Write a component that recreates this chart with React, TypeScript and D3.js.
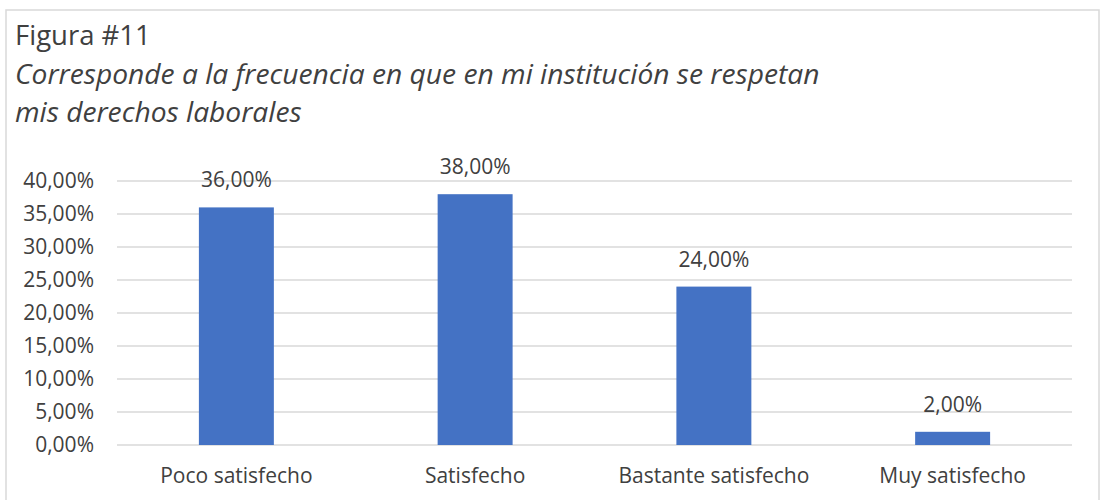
import React, { useEffect, useRef } from "react";
import * as d3 from "d3";

const categories = ["Poco satisfecho", "Satisfecho", "Bastante satisfecho", "Muy satisfecho"];
const values = [0.36, 0.38, 0.24, 0.02];
const yTicks = [0, 0.05, 0.1, 0.15, 0.2, 0.25, 0.3, 0.35, 0.4];
const titleLines = [
  "Corresponde a la frecuencia en que en mi institución se respetan",
  "mis derechos laborales",
];

const fmt = (v: number) => (v * 100).toFixed(2).replace(".", ",") + "%";

const App: React.FC = () => {
  const svgRef = useRef<SVGSVGElement | null>(null);

  useEffect(() => {
    const width = 1100;
    const height = 500;
    const margin = { top: 181, right: 28, bottom: 55, left: 117 };
    const innerWidth = width - margin.left - margin.right;
    const innerHeight = height - margin.top - margin.bottom;
    const font = "'Open Sans', sans-serif";
    const textColor = "#404040";
    const labelSize = 21;

    d3.select(svgRef.current).selectAll("*").remove();

    const svg = d3
      .select(svgRef.current)
      .attr("width", width)
      .attr("height", height)
      .style("font-family", font);

    svg.append("rect").attr("width", width).attr("height", height).attr("fill", "#fff");

    // chart border
    svg
      .append("rect")
      .attr("x", 6)
      .attr("y", 10)
      .attr("width", 1093)
      .attr("height", 500)
      .attr("fill", "none")
      .attr("stroke", "#d9d9d9")
      .attr("stroke-width", 1.5);

    // titles
    svg
      .append("text")
      .attr("x", 15)
      .attr("y", 45)
      .attr("font-size", 27.5)
      .attr("fill", textColor)
      .text("Figura #11");

    titleLines.forEach((t, i) => {
      svg
        .append("text")
        .attr("x", 15)
        .attr("y", 84 + i * 38)
        .attr("font-size", 28.2)
        .attr("font-style", "italic")
        .attr("fill", textColor)
        .text(t);
    });

    const g = svg.append("g").attr("transform", `translate(${margin.left},${margin.top})`);

    const x = d3.scaleBand().domain(categories).range([0, innerWidth]).paddingInner(0.686).paddingOuter(0.343);

    const y = d3.scaleLinear().domain([0, 0.4]).range([innerHeight, 0]);

    // gridlines
    g.selectAll(".grid")
      .data(yTicks)
      .join("line")
      .attr("x1", 0)
      .attr("x2", innerWidth)
      .attr("y1", (d) => y(d))
      .attr("y2", (d) => y(d))
      .attr("stroke", "#d9d9d9")
      .attr("stroke-width", 1.3);

    // y axis labels
    g.selectAll(".ytick")
      .data(yTicks)
      .join("text")
      .attr("x", -23)
      .attr("y", (d) => y(d))
      .attr("dy", "0.35em")
      .attr("text-anchor", "end")
      .attr("font-size", labelSize)
      .attr("fill", textColor)
      .text((d) => fmt(d));

    // bars
    g.selectAll(".bar")
      .data(values)
      .join("rect")
      .attr("x", (_, i) => x(categories[i])!)
      .attr("y", (d) => y(d))
      .attr("width", x.bandwidth())
      .attr("height", (d) => innerHeight - y(d))
      .attr("fill", "#4472c4");

    // value labels
    g.selectAll(".val")
      .data(values)
      .join("text")
      .attr("x", (_, i) => x(categories[i])! + x.bandwidth() / 2)
      .attr("y", (d) => y(d) - 20)
      .attr("text-anchor", "middle")
      .attr("font-size", labelSize)
      .attr("fill", textColor)
      .text((d) => fmt(d));

    // category labels
    g.selectAll(".cat")
      .data(categories)
      .join("text")
      .attr("x", (d) => x(d)! + x.bandwidth() / 2)
      .attr("y", innerHeight + 38)
      .attr("text-anchor", "middle")
      .attr("font-size", labelSize)
      .attr("fill", textColor)
      .text((d) => d);
  }, []);

  return (
    <div style={{ position: "absolute", left: 0, top: 0 }}>
      <svg ref={svgRef} style={{ display: "block" }}></svg>
    </div>
  );
};

export default App;
